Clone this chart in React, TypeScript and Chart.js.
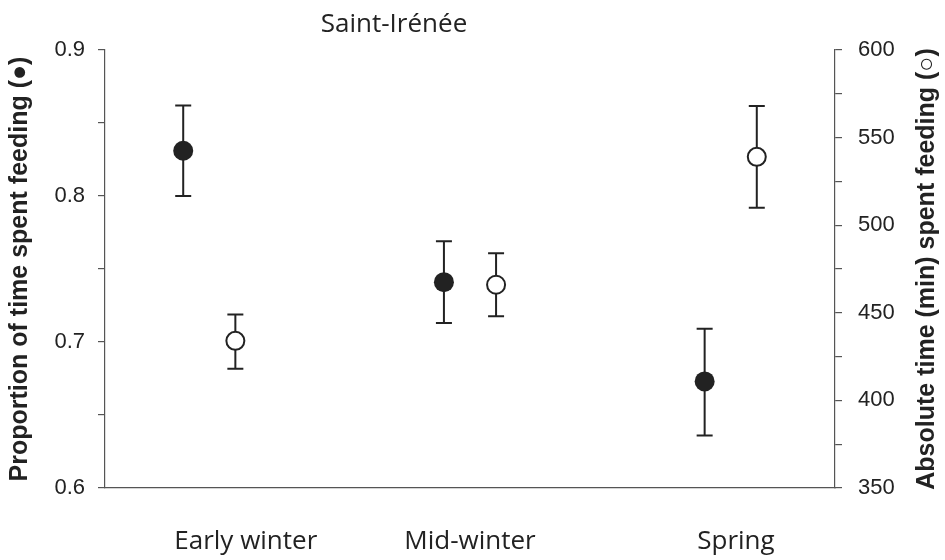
import React, { useEffect, useRef } from "react";
import { Chart, registerables } from "chart.js";

Chart.register(...registerables);

const categories = ["Early winter", "Mid-winter", "Spring"];
const categoryX = [1, 2, 3];
const labelX = [1.14, 2.0, 3.02];

const propMean = [0.831, 0.741, 0.673];
const propLow = [0.8, 0.713, 0.636];
const propHigh = [0.862, 0.769, 0.709];

const absMean = [434, 466, 539];
const absLow = [418, 448, 510];
const absHigh = [449, 484, 568];

const leftTicks = [0.6, 0.7, 0.8, 0.9];
const rightTicks = [350, 400, 450, 500, 550, 600];

const chartTitle = "Saint-Irénée";
const leftTitle = "Proportion of time spent feeding (●)";
const rightTitle = "Absolute time (min) spent feeding (○)";

const INK = "#222222";
const AXIS = "#555555";
const TITLE_FONT = "bold 25px 'Liberation Sans', Arial";

const errorBarPlugin = {
  id: "errorBars",
  beforeDatasetsDraw(chart: any) {
    const ctx = chart.ctx;
    const xs = chart.scales.x;
    chart.data.datasets.forEach((ds: any) => {
      const ys = chart.scales[ds.yAxisID];
      ds.data.forEach((p: any) => {
        const x = xs.getPixelForValue(p.x);
        const yl = ys.getPixelForValue(p.lo);
        const yh = ys.getPixelForValue(p.hi);
        ctx.save();
        ctx.strokeStyle = INK;
        ctx.lineWidth = 2;
        ctx.beginPath();
        ctx.moveTo(x, yl);
        ctx.lineTo(x, yh);
        ctx.moveTo(x - 8, yl);
        ctx.lineTo(x + 8, yl);
        ctx.moveTo(x - 8, yh);
        ctx.lineTo(x + 8, yh);
        ctx.stroke();
        ctx.restore();
      });
    });
  },
};

const textPlugin = {
  id: "extraText",
  afterDraw(chart: any) {
    const ctx = chart.ctx;
    const area = chart.chartArea;
    ctx.save();
    ctx.fillStyle = INK;
    ctx.font = "26px 'Open Sans'";
    ctx.textAlign = "center";
    ctx.textBaseline = "alphabetic";
    ctx.fillText(chartTitle, 394, 32);
    ctx.restore();

    ctx.save();
    ctx.fillStyle = INK;
    ctx.font = TITLE_FONT;
    ctx.textAlign = "center";
    ctx.textBaseline = "middle";
    ctx.translate(927, (area.top + area.bottom) / 2);
    ctx.rotate(-Math.PI / 2);
    ctx.fillText(rightTitle, 0, 0);
    ctx.restore();
  },
};

export default function App() {
  const ref = useRef<HTMLCanvasElement | null>(null);

  useEffect(() => {
    document.body.style.margin = "0";
    const canvas = ref.current;
    if (!canvas) return;

    const filled = categoryX.map((c, i) => ({
      x: c - 0.1,
      y: propMean[i],
      lo: propLow[i],
      hi: propHigh[i],
    }));
    const open = categoryX.map((c, i) => ({
      x: c + 0.1,
      y: absMean[i],
      lo: absLow[i],
      hi: absHigh[i],
    }));

    const chart = new Chart(canvas, {
      type: "scatter",
      data: {
        datasets: [
          {
            label: "Proportion",
            data: filled,
            yAxisID: "y",
            pointRadius: 10,
            pointBackgroundColor: INK,
            pointBorderColor: INK,
            pointBorderWidth: 0,
            showLine: false,
          },
          {
            label: "Absolute",
            data: open,
            yAxisID: "y2",
            pointRadius: 9,
            pointBackgroundColor: "#ffffff",
            pointBorderColor: INK,
            pointBorderWidth: 2,
            showLine: false,
          },
        ],
      },
      plugins: [errorBarPlugin, textPlugin],
      options: {
        animation: false,
        responsive: false,
        maintainAspectRatio: false,
        layout: { padding: { top: 50, left: 0, right: 0, bottom: 0 } },
        plugins: {
          legend: { display: false },
          tooltip: { enabled: false },
          title: { display: false },
        },
        scales: {
          x: {
            type: "linear",
            min: 0.6,
            max: 3.4,
            grid: { display: false, drawTicks: false },
            border: { display: true, color: AXIS, width: 1.2 },
            afterBuildTicks: (scale: any) => {
              scale.ticks = labelX.map((v) => ({ value: v }));
            },
            afterFit: (scale: any) => {
              scale.height = 72;
            },
            ticks: {
              padding: 38,
              autoSkip: false,
              maxRotation: 0,
              color: INK,
              font: { family: "'Open Sans'", size: 26 },
              callback: (_v: any, i: number) => categories[i],
            },
          },
          y: {
            type: "linear",
            position: "left",
            min: 0.6,
            max: 0.9,
            grid: {
              drawOnChartArea: false,
              drawTicks: true,
              tickLength: 7,
              color: AXIS,
              lineWidth: 1.2,
            },
            border: { display: true, color: AXIS, width: 1.2 },
            afterBuildTicks: (scale: any) => {
              const t: any[] = [];
              for (let k = 0; k <= 6; k++) t.push({ value: 0.6 + k * 0.05 });
              scale.ticks = t;
            },
            afterFit: (scale: any) => {
              scale.width = 105;
            },
            ticks: {
              padding: 13,
              color: INK,
              font: { family: "'Liberation Sans', Arial", size: 22 },
              callback: (v: any) => {
                const n = Math.round(Number(v) * 100) / 100;
                const hit = leftTicks.find((t) => Math.abs(t - n) < 1e-6);
                return hit !== undefined ? hit.toFixed(1) : "";
              },
            },
            title: {
              display: true,
              text: leftTitle,
              color: INK,
              font: { family: "'Liberation Sans', Arial", size: 25, weight: "bold" },
              padding: { top: 5, bottom: 0 },
            },
          },
          y2: {
            type: "linear",
            position: "right",
            min: 350,
            max: 600,
            grid: {
              drawOnChartArea: false,
              drawTicks: true,
              tickLength: 7,
              color: AXIS,
              lineWidth: 1.2,
            },
            border: { display: true, color: AXIS, width: 1.2 },
            afterBuildTicks: (scale: any) => {
              const t: any[] = [];
              for (let k = 0; k <= 10; k++) t.push({ value: 350 + k * 25 });
              scale.ticks = t;
            },
            afterFit: (scale: any) => {
              scale.width = 110;
            },
            ticks: {
              padding: 16,
              color: INK,
              font: { family: "'Liberation Sans', Arial", size: 22 },
              callback: (v: any) => {
                const n = Math.round(Number(v));
                return rightTicks.includes(n) ? String(n) : "";
              },
            },
          },
        },
      } as any,
    });

    return () => chart.destroy();
  }, []);

  return (
    <div style={{ width: 945, height: 560 }}>
      <canvas ref={ref} width={945} height={560} style={{ display: "block" }} />
    </div>
  );
}
